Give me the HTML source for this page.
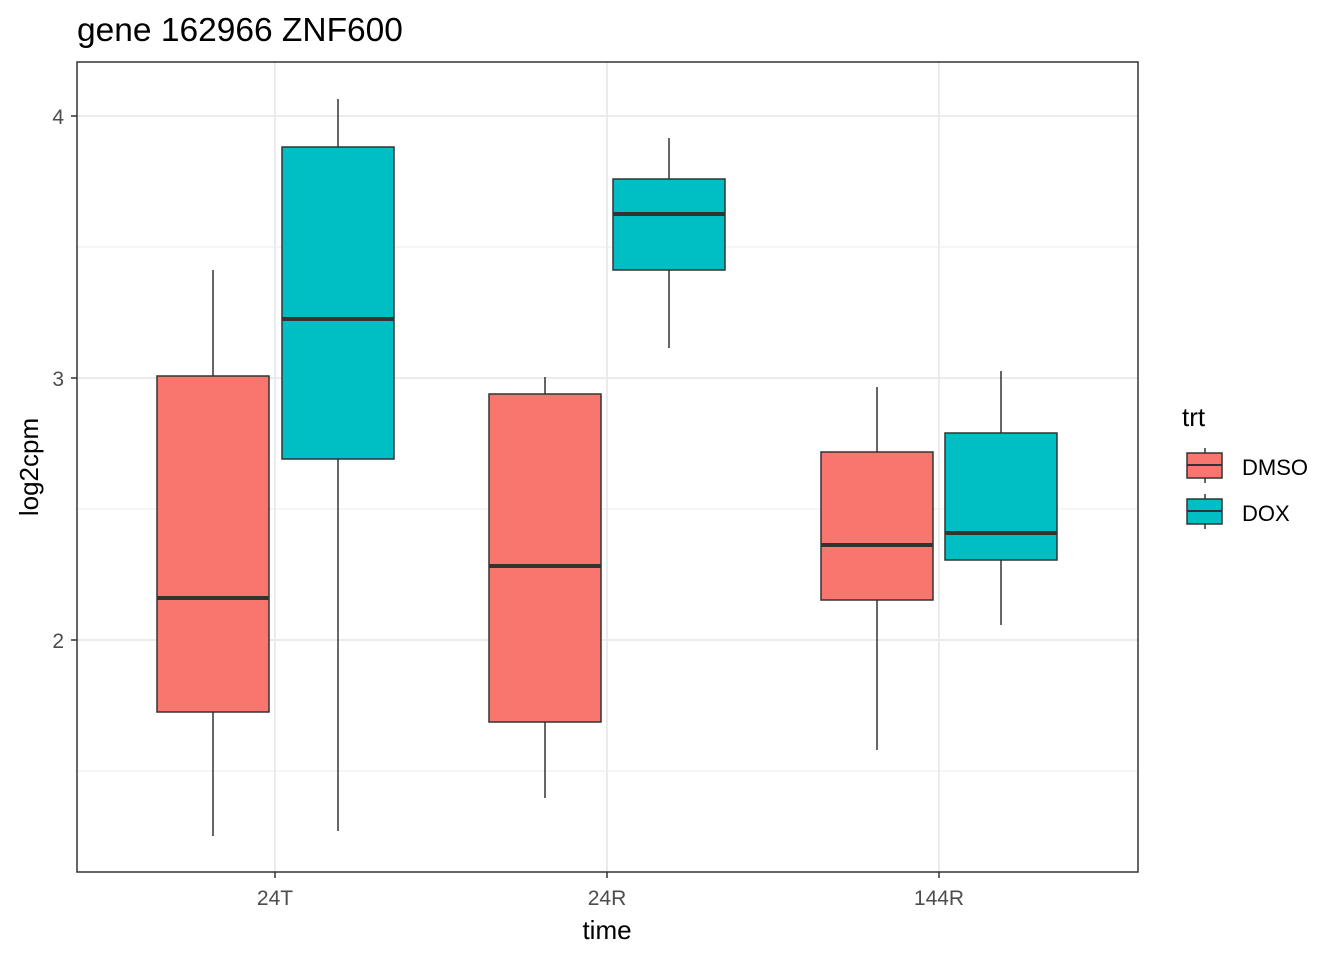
<!DOCTYPE html>
<html><head><style>body{margin:0;background:#fff}svg{display:block}text{font-family:"Liberation Sans",Arial,sans-serif}</style></head>
<body>
<svg width="1344" height="960" viewBox="0 0 1344 960">
<rect width="1344" height="960" fill="#fff"/>
<g stroke="#ebebeb" stroke-width="1">
<line x1="77" x2="1138" y1="247" y2="247"/><line x1="77" x2="1138" y1="509" y2="509"/><line x1="77" x2="1138" y1="771" y2="771"/>
</g>
<g stroke="#ebebeb" stroke-width="2">
<line x1="77" x2="1138" y1="116" y2="116"/><line x1="77" x2="1138" y1="378" y2="378"/><line x1="77" x2="1138" y1="640" y2="640"/>
<line x1="275" x2="275" y1="62" y2="872"/><line x1="607" x2="607" y1="62" y2="872"/><line x1="939" x2="939" y1="62" y2="872"/>
</g>
<g stroke="#333" stroke-width="1.5">
<line x1="213" x2="213" y1="270" y2="836"/><rect x="157" y="376" width="112" height="336" fill="#F8766D"/><line x1="157" x2="269" y1="598" y2="598" stroke-width="4"/>
<line x1="338" x2="338" y1="99" y2="831"/><rect x="282" y="147" width="112" height="312" fill="#00BFC4"/><line x1="282" x2="394" y1="319" y2="319" stroke-width="4"/>
<line x1="545" x2="545" y1="377" y2="798"/><rect x="489" y="394" width="112" height="328" fill="#F8766D"/><line x1="489" x2="601" y1="566" y2="566" stroke-width="4"/>
<line x1="669" x2="669" y1="138" y2="348"/><rect x="613" y="179" width="112" height="91" fill="#00BFC4"/><line x1="613" x2="725" y1="214" y2="214" stroke-width="4"/>
<line x1="877" x2="877" y1="387" y2="750"/><rect x="821" y="452" width="112" height="148" fill="#F8766D"/><line x1="821" x2="933" y1="545" y2="545" stroke-width="4"/>
<line x1="1001" x2="1001" y1="371" y2="625"/><rect x="945" y="433" width="112" height="127" fill="#00BFC4"/><line x1="945" x2="1057" y1="533" y2="533" stroke-width="4"/>
</g>
<rect x="77" y="62" width="1061" height="810" fill="none" stroke="#333" stroke-width="1.5"/>
<g stroke="#333" stroke-width="1.5">
<line x1="71" x2="77" y1="116" y2="116"/><line x1="71" x2="77" y1="378" y2="378"/><line x1="71" x2="77" y1="640" y2="640"/>
<line x1="275" x2="275" y1="872" y2="878"/><line x1="607" x2="607" y1="872" y2="878"/><line x1="939" x2="939" y1="872" y2="878"/>
</g>
<g font-size="21" fill="#4d4d4d">
<text x="64" y="124" text-anchor="end">4</text><text x="64" y="386" text-anchor="end">3</text><text x="64" y="648" text-anchor="end">2</text>
<text x="275" y="905" text-anchor="middle">24T</text><text x="607" y="905" text-anchor="middle">24R</text><text x="939" y="905" text-anchor="middle">144R</text>
</g>
<text x="607" y="939" font-size="26" text-anchor="middle">time</text>
<text transform="translate(38,467) rotate(-90)" font-size="26" text-anchor="middle">log2cpm</text>
<text x="77" y="41" font-size="33.5">gene 162966 ZNF600</text>
<text x="1182" y="426" font-size="26">trt</text>
<g stroke="#333" stroke-width="1.5">
<line x1="1205" x2="1205" y1="448" y2="483"/><rect x="1187" y="453" width="35" height="25" fill="#F8766D"/><line x1="1187" x2="1222" y1="465" y2="465" stroke-width="2"/>
<line x1="1205" x2="1205" y1="494" y2="529"/><rect x="1187" y="499" width="35" height="25" fill="#00BFC4"/><line x1="1187" x2="1222" y1="511" y2="511" stroke-width="2"/>
</g>
<text x="1242" y="475" font-size="22">DMSO</text>
<text x="1242" y="521" font-size="22">DOX</text>
</svg>
</body></html>
